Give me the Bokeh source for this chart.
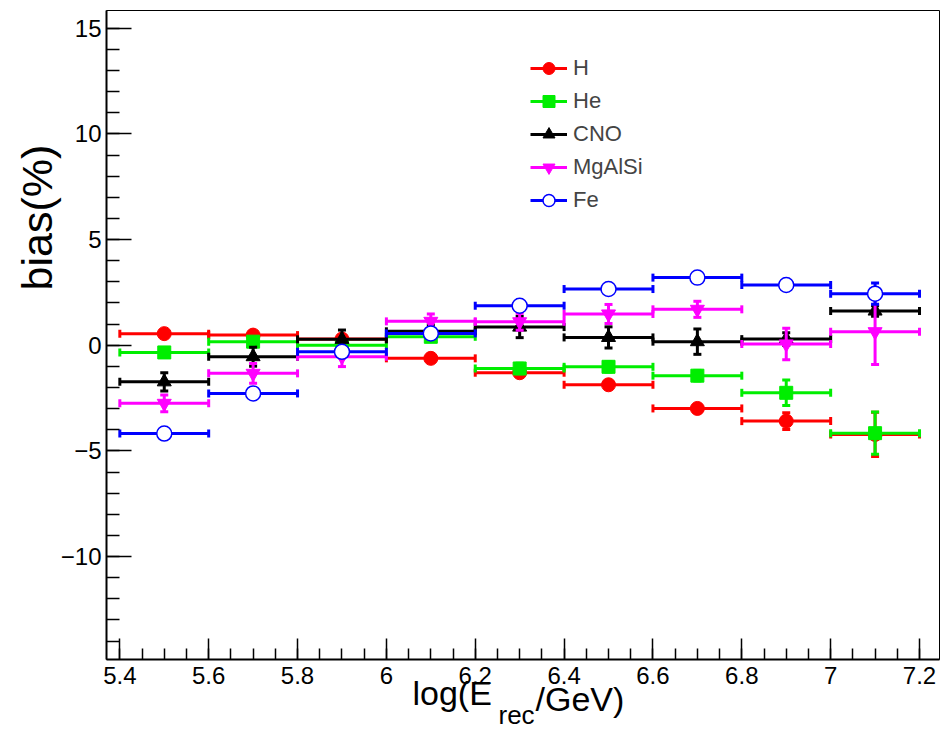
import numpy as np
from bokeh.plotting import figure
from bokeh.models import (Range1d, ColumnDataSource, Legend, LegendItem, Title,
                          FixedTicker, CustomJSTickFormatter)
from bokeh.embed import file_html
from bokeh.resources import INLINE

# ---------------- data ----------------
bin_lo = [5.4, 5.6, 5.8, 6.0, 6.2, 6.4, 6.6, 6.8, 7.0]
bin_hi = [5.6, 5.8, 6.0, 6.2, 6.4, 6.6, 6.8, 7.0, 7.2]
bin_center = [5.5, 5.7, 5.9, 6.1, 6.3, 6.5, 6.7, 6.9, 7.1]

h_bias = [0.55, 0.48, 0.29, -0.62, -1.30, -1.87, -2.99, -3.59, -4.22]
h_err = [0.12, 0.12, 0.12, 0.15, 0.15, 0.15, 0.15, 0.40, 1.05]

he_bias = [-0.34, 0.17, 0.00, 0.40, -1.10, -1.02, -1.44, -2.25, -4.16]
he_err = [0.20, 0.20, 0.20, 0.15, 0.25, 0.25, 0.25, 0.60, 1.00]

cno_bias = [-1.73, -0.54, 0.28, 0.66, 0.86, 0.37, 0.17, 0.29, 1.62]
cno_err = [0.43, 0.45, 0.44, 0.30, 0.50, 0.50, 0.60, 0.30, 0.25]

mg_bias = [-2.75, -1.33, -0.54, 1.13, 1.11, 1.48, 1.70, 0.06, 0.64]
mg_err = [0.40, 0.47, 0.47, 0.35, 0.40, 0.45, 0.38, 0.75, 1.55]

fe_bias = [-4.18, -2.28, -0.31, 0.56, 1.87, 2.66, 3.20, 2.85, 2.44]
fe_err = [0.10, 0.10, 0.10, 0.10, 0.10, 0.10, 0.10, 0.10, 0.50]

series_names = ["H", "He", "CNO", "MgAlSi", "Fe"]

x_ticks = [5.4, 5.6, 5.8, 6.0, 6.2, 6.4, 6.6, 6.8, 7.0, 7.2]
x_tick_labels = ["5.4", "5.6", "5.8", "6", "6.2", "6.4", "6.6", "6.8", "7", "7.2"]
y_ticks = [-10, -5, 0, 5, 10, 15]
y_tick_labels = ["\u221210", "\u22125", "0", "5", "10", "15"]

# ---------------- figure ----------------
p = figure(width=945, height=738, output_backend="svg", toolbar_location=None,
           x_range=Range1d(5.37, 7.245), y_range=Range1d(-14.87, 15.84),
           min_border_left=106, min_border_right=6, min_border_top=10,
           min_border_bottom=79)
p.xgrid.visible = False
p.ygrid.visible = False
p.outline_line_color = "black"
p.outline_line_width = 1
p.background_fill_color = "white"
p.border_fill_color = "white"

FONT = "Liberation Sans"

x_minor = [round(5.35 + 0.05 * i, 3) for i in range(0, 40) if 5.35 + 0.05 * i < 7.25]
y_minor = list(range(-14, 16))

p.xaxis.ticker = FixedTicker(ticks=x_ticks, minor_ticks=x_minor)
p.yaxis.ticker = FixedTicker(ticks=y_ticks, minor_ticks=y_minor)

fmt_code = """
let best = 0; let d = 1e9;
for (let i = 0; i < tks.length; i++) {
  const dd = Math.abs(tks[i] - tick);
  if (dd < d) { d = dd; best = i; }
}
return lbls[best];
"""
p.xaxis.formatter = CustomJSTickFormatter(args=dict(tks=x_ticks, lbls=x_tick_labels), code=fmt_code)
p.yaxis.formatter = CustomJSTickFormatter(args=dict(tks=y_ticks, lbls=y_tick_labels), code=fmt_code)

for ax in (p.xaxis[0], p.yaxis[0]):
    ax.axis_line_width = 2
    ax.axis_line_color = "black"
    ax.major_tick_out = 0
    ax.minor_tick_out = 0
    ax.major_tick_line_width = 1.5
    ax.minor_tick_line_width = 1.5
    ax.major_label_text_font = FONT
    ax.major_label_text_font_size = "24px"
    ax.major_label_text_color = "black"

p.xaxis.major_tick_in = 21
p.xaxis.minor_tick_in = 11
p.xaxis.major_label_standoff = 7
p.yaxis.major_tick_in = 25
p.yaxis.minor_tick_in = 13
p.yaxis.major_label_standoff = 5

# ---------------- series ----------------
colors = ["#ff0000", "#00ee00", "#000000", "#ff00ff", "#0000ff"]
markers = ["circle", "square", "triangle", "inverted_triangle", "circle"]
msizes = [14, 13, 14, 14, 15]
all_bias = [h_bias, he_bias, cno_bias, mg_bias, fe_bias]
all_err = [h_err, he_err, cno_err, mg_err, fe_err]

legend_items = []
for name, col, mk, ms, b, e in zip(series_names, colors, markers, msizes, all_bias, all_err):
    b = np.array(b)
    e = np.array(e)
    src = ColumnDataSource(dict(x=bin_center, lo=bin_lo, hi=bin_hi, y=b,
                                ylo=b - e, yhi=b + e))
    hseg = p.segment(x0="lo", y0="y", x1="hi", y1="y", source=src,
                     line_color=col, line_width=3)
    p.segment(x0="x", y0="ylo", x1="x", y1="yhi", source=src,
              line_color=col, line_width=3)
    cap_src = ColumnDataSource(dict(x=list(bin_lo) + list(bin_hi), y=list(b) + list(b)))
    p.scatter(x="x", y="y", source=cap_src, marker="dash", angle=np.pi / 2,
              size=8, line_color=col, line_width=3)
    ycap_src = ColumnDataSource(dict(x=list(bin_center) * 2, y=list(b - e) + list(b + e)))
    p.scatter(x="x", y="y", source=ycap_src, marker="dash",
              size=8, line_color=col, line_width=3)
    if name == "Fe":
        mr = p.scatter(x="x", y="y", source=src, marker=mk, size=ms,
                       fill_color="white", line_color=col, line_width=1.5)
    else:
        mr = p.scatter(x="x", y="y", source=src, marker=mk, size=ms,
                       fill_color=col, line_color=col)
    legend_items.append(LegendItem(label=name, renderers=[hseg, mr]))

legend = Legend(items=legend_items, location=(424, 444),
                border_line_color=None, background_fill_alpha=0,
                padding=0, margin=0, glyph_width=37, glyph_height=30,
                label_height=20, spacing=3, label_standoff=6,
                label_text_font=FONT, label_text_font_size="22px")
p.add_layout(legend, "center")

# ---------------- axis titles (as side-panel titles) ----------------
def side_title(text, size, align, offset, standoff):
    return Title(text=text, align=align, offset=offset, standoff=standoff,
                 text_font=FONT, text_font_size=size, text_font_style="normal",
                 text_color="black")

p.add_layout(side_title("bias(%)", "43px", "left", 369, -6), "left")
p.add_layout(side_title("log(E", "34px", "left", 306, -29), "below")
p.add_layout(side_title("/GeV)", "34px", "left", 429, -40), "below")
p.add_layout(side_title("rec", "26px", "left", 392, 1), "below")

open("out.html", "w").write(file_html(p, INLINE))
